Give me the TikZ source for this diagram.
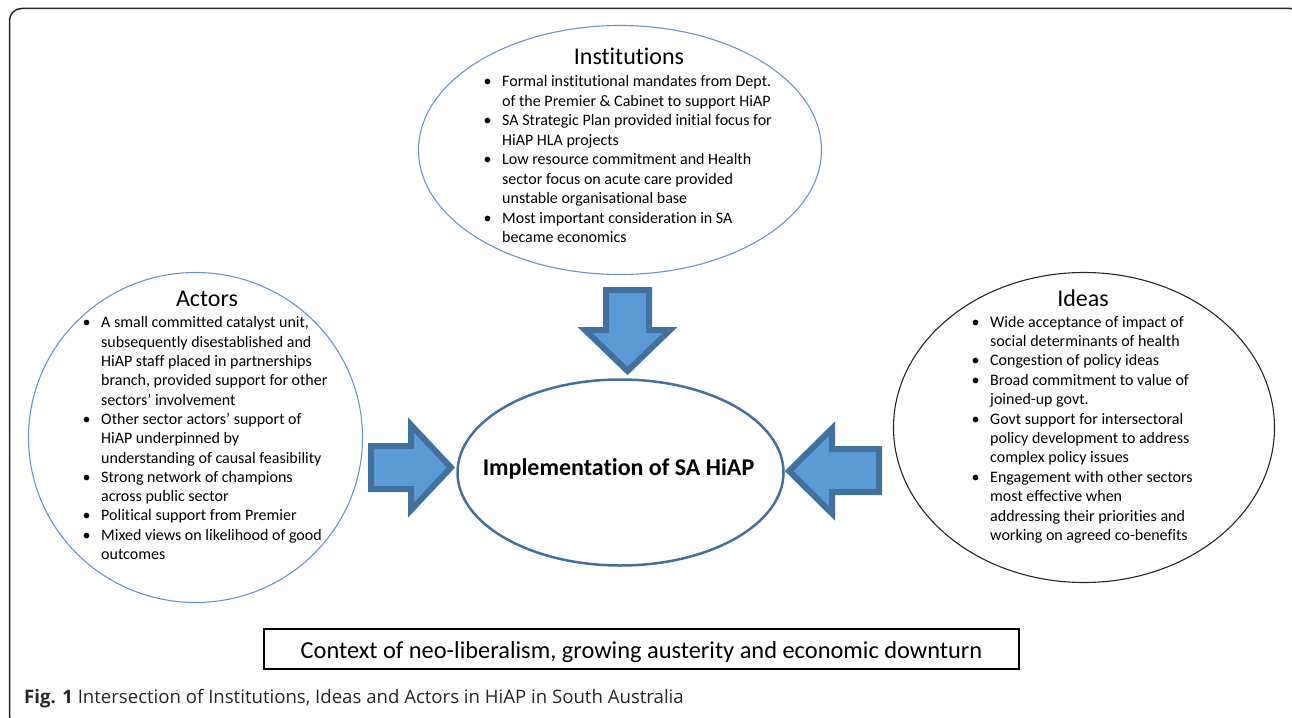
\documentclass[tikz,border=0pt]{standalone}
\usepackage{fontspec}
\setmainfont{Carlito}[Ligatures={NoCommon,TeX}]
\newfontfamily\capfont{Open Sans}
\usetikzlibrary{shapes.geometric}
\definecolor{arrowfill}{HTML}{5B9BD5}
\definecolor{arrowline}{HTML}{41719C}
\definecolor{thinblue}{HTML}{6A93C6}
\newcommand\bul{\llap{\textbullet\hspace{10.5pt}}}
\tikzset{
  oval/.style={ellipse, draw, inner sep=0pt},
  heading/.style={anchor=base, inner sep=0pt, font=\fontsize{24}{28}\selectfont},
  % lists are placed by the baseline of their last line
  points/.style={anchor=base west, inner sep=0pt, align=left, font=\fontsize{16}{19.5}\selectfont},
  blockarrow/.style={fill=arrowfill, draw=arrowline, line width=6pt, line join=miter},
}
\begin{document}
\begin{tikzpicture}[x=1pt,y=-1pt]
\useasboundingbox (0,0) rectangle (1292,717);
\clip (0,0) rectangle (1292,717);
% outer frame
\draw[line width=1.5pt, black!85, rounded corners=12pt] (9.5,8.5) rectangle (1302,728);

% the three influences and the outcome
\node[oval, draw=thinblue, line width=1.1pt, minimum width=403, minimum height=249] (inst) at (620,150) {};
\node[oval, draw=thinblue, line width=1.1pt, minimum width=334, minimum height=330] (act) at (195.5,437.5) {};
\node[oval, draw=black!85, line width=1.1pt, minimum width=381, minimum height=310] (idea) at (1084,427.5) {};
\node[oval, draw=arrowline, line width=2.5pt, minimum width=326, minimum height=186] (impl) at (620.5,472.5) {};

\node[heading] (insttitle) at (629,65) {Institutions};
\node[heading] (acttitle) at (207,306) {Actors};
\node[heading] (ideatitle) at (1083,306) {Ideas};
\node[anchor=base, inner sep=0pt, font=\fontsize{24}{28}\selectfont\bfseries] (impltext) at (618.5,475) {Implementation of SA HiAP};

\node[points] (instlist) at (502,242.5) {%
\bul Formal institutional mandates from Dept.\\
of the Premier \& Cabinet to support HiAP\\
\bul SA Strategic Plan provided initial focus for\\
HiAP HLA projects\\
\bul Low resource commitment and Health\\
sector focus on acute care provided\\
unstable organisational base\\
\bul Most important consideration in SA\\
became economics};

\node[points, font=\fontsize{16}{19.3}\selectfont] (actlist) at (101,559.5) {%
\bul A small committed catalyst unit,\\
subsequently disestablished and\\
HiAP staff placed in partnerships\\
branch, provided support for other\\
sectors’ involvement\\
\bul Other sector actors’ support of\\
HiAP underpinned by\\
understanding of causal feasibility\\
\bul Strong network of champions\\
across public sector\\
\bul Political support from Premier\\
\bul Mixed views on likelihood of good\\
outcomes};

\node[points, font=\fontsize{16}{19.4}\selectfont] (idealist) at (990,540.5) {%
\bul Wide acceptance of impact of\\
social determinants of health\\
\bul Congestion of policy ideas\\
\bul Broad commitment to value of\\
joined-up govt.\\
\bul Govt support for intersectoral\\
policy development to address\\
complex policy issues\\
\bul Engagement with other sectors\\
most effective when\\
addressing their priorities and\\
working on agreed co-benefits};

% block arrows pointing into the outcome
\draw[blockarrow] (606,290) -- (649,290) -- (649,330) -- (670,330) -- (627.5,371) -- (585,330) -- (606,330) -- cycle;
\draw[blockarrow] (371,446) -- (411,446) -- (411,425) -- (451,467.5) -- (411,510) -- (411,489) -- (371,489) -- cycle;
\draw[blockarrow] (879,449) -- (832,449) -- (832,428.5) -- (789,471) -- (832,513.5) -- (832,492) -- (879,492) -- cycle;

% context box and caption
\node[draw=black, line width=1.6pt, minimum width=755, minimum height=40, inner sep=0pt] (ctx) at (641.5,649) {};
\node[anchor=base, inner sep=0pt, font=\fontsize{24.4}{28}\selectfont] (ctxtext) at (641.5,658) {Context of neo-liberalism, growing austerity and economic downturn};
\node[anchor=base west, inner sep=0pt, text=black!85, font=\capfont\fontsize{18.6}{22}\selectfont] (cap) at (24,703) {\textbf{Fig. 1} Intersection of Institutions, Ideas and Actors in HiAP in South Australia};
\end{tikzpicture}
\end{document}
